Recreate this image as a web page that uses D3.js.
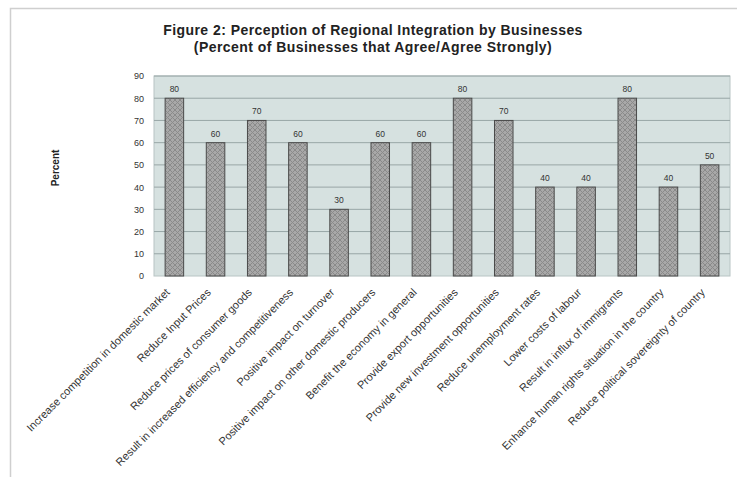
<!DOCTYPE html>
<html><head><meta charset="utf-8">
<script src="https://cdn.jsdelivr.net/npm/d3@7"></script>
<style>body{margin:0;background:#fff}svg{display:block;font-family:"Liberation Sans",Arial,sans-serif}</style>
</head><body><svg id="c" width="737" height="477"></svg>
<script>
const categories = ["Increase competition in domestic market","Reduce Input Prices","Reduce prices of consumer goods","Result in increased efficiency and competitiveness","Positive impact on turnover","Positive impact on other domestic producers","Benefit the economy in general","Provide export opportunities","Provide new investment opportunities","Reduce unemployment rates","Lower costs of labour","Result in influx of immigrants","Enhance human rights situation in the country","Reduce political sovereignty of country"];
const values = [80,60,70,60,30,60,60,80,70,40,40,80,40,50];
const yTicks = [0,10,20,30,40,50,60,70,80,90];
const titleLines = ["Figure 2: Perception of Regional Integration by Businesses","(Percent of Businesses that Agree/Agree Strongly)"];

const svg = d3.select("#c");
const m = {l:154, r:730, t:76, b:276};
// outer border
svg.append("rect").attr("x",10.5).attr("y",8.5).attr("width",740).attr("height",480).attr("fill","none").attr("stroke","#cfcfcf").attr("stroke-width",1.5);

const defs = svg.append("defs");
const pat = defs.append("pattern").attr("id","hatch").attr("patternUnits","userSpaceOnUse").attr("width",5).attr("height",5);
pat.append("rect").attr("width",5).attr("height",5).attr("fill","#a8a8a8");
pat.append("path").attr("d","M0,0L5,5M5,0L0,5").attr("stroke","#8a8a8a").attr("stroke-width",1);

const x = d3.scaleBand().domain(categories).range([m.l,m.r]).paddingInner(0.55).paddingOuter(0.27);
const y = d3.scaleLinear().domain([0,90]).range([m.b,m.t]);

svg.append("rect").attr("x",m.l).attr("y",m.t).attr("width",m.r-m.l).attr("height",m.b-m.t).attr("fill","#d6e1e0").attr("stroke","#b8c4c4");

const yAxis = d3.axisLeft(y).tickValues(yTicks).tickSize(0).tickPadding(10);
const gy = svg.append("g").attr("transform",`translate(${m.l},0)`).call(yAxis);
gy.select(".domain").remove();
gy.selectAll("text").attr("font-size",9).attr("fill","#333").attr("font-family","Liberation Sans, Arial");

svg.append("g").selectAll("line").data(yTicks.slice(1)).join("line")
  .attr("x1",m.l).attr("x2",m.r).attr("y1",d=>y(d)).attr("y2",d=>y(d))
  .attr("stroke","#98a6a6").attr("stroke-width",1);

svg.append("g").selectAll("rect").data(values).join("rect")
  .attr("x",(d,i)=>x(categories[i])).attr("width",x.bandwidth())
  .attr("y",d=>y(d)).attr("height",d=>m.b-y(d))
  .attr("fill","url(#hatch)").attr("stroke","#4a4a4a").attr("stroke-width",1);

svg.append("g").selectAll("text").data(values).join("text")
  .attr("x",(d,i)=>x(categories[i])+x.bandwidth()/2).attr("y",d=>y(d)-6)
  .attr("text-anchor","middle").attr("font-size",8.5).attr("fill","#333").text(d=>d);

const xAxis = d3.axisBottom(x).tickSize(0).tickPadding(0);
const gx = svg.append("g").attr("transform",`translate(0,${m.b})`).call(xAxis);
gx.select(".domain").remove();
gx.selectAll("text").attr("font-size",11).attr("fill","#333").attr("text-anchor","end")
  .attr("dy",0).attr("y",0).attr("transform","translate(-4,17) rotate(-45)");

svg.append("text").attr("transform","translate(59,168) rotate(-90)").attr("text-anchor","middle")
  .attr("font-size",10).attr("font-weight","bold").attr("fill","#222").text("Percent");

svg.append("g").selectAll("text").data(titleLines).join("text")
  .attr("x",373).attr("y",(d,i)=>35+i*17).attr("text-anchor","middle")
  .attr("font-size",14).attr("letter-spacing",0.45).attr("font-weight","bold").attr("fill","#222").text(d=>d);
</script></body></html>
